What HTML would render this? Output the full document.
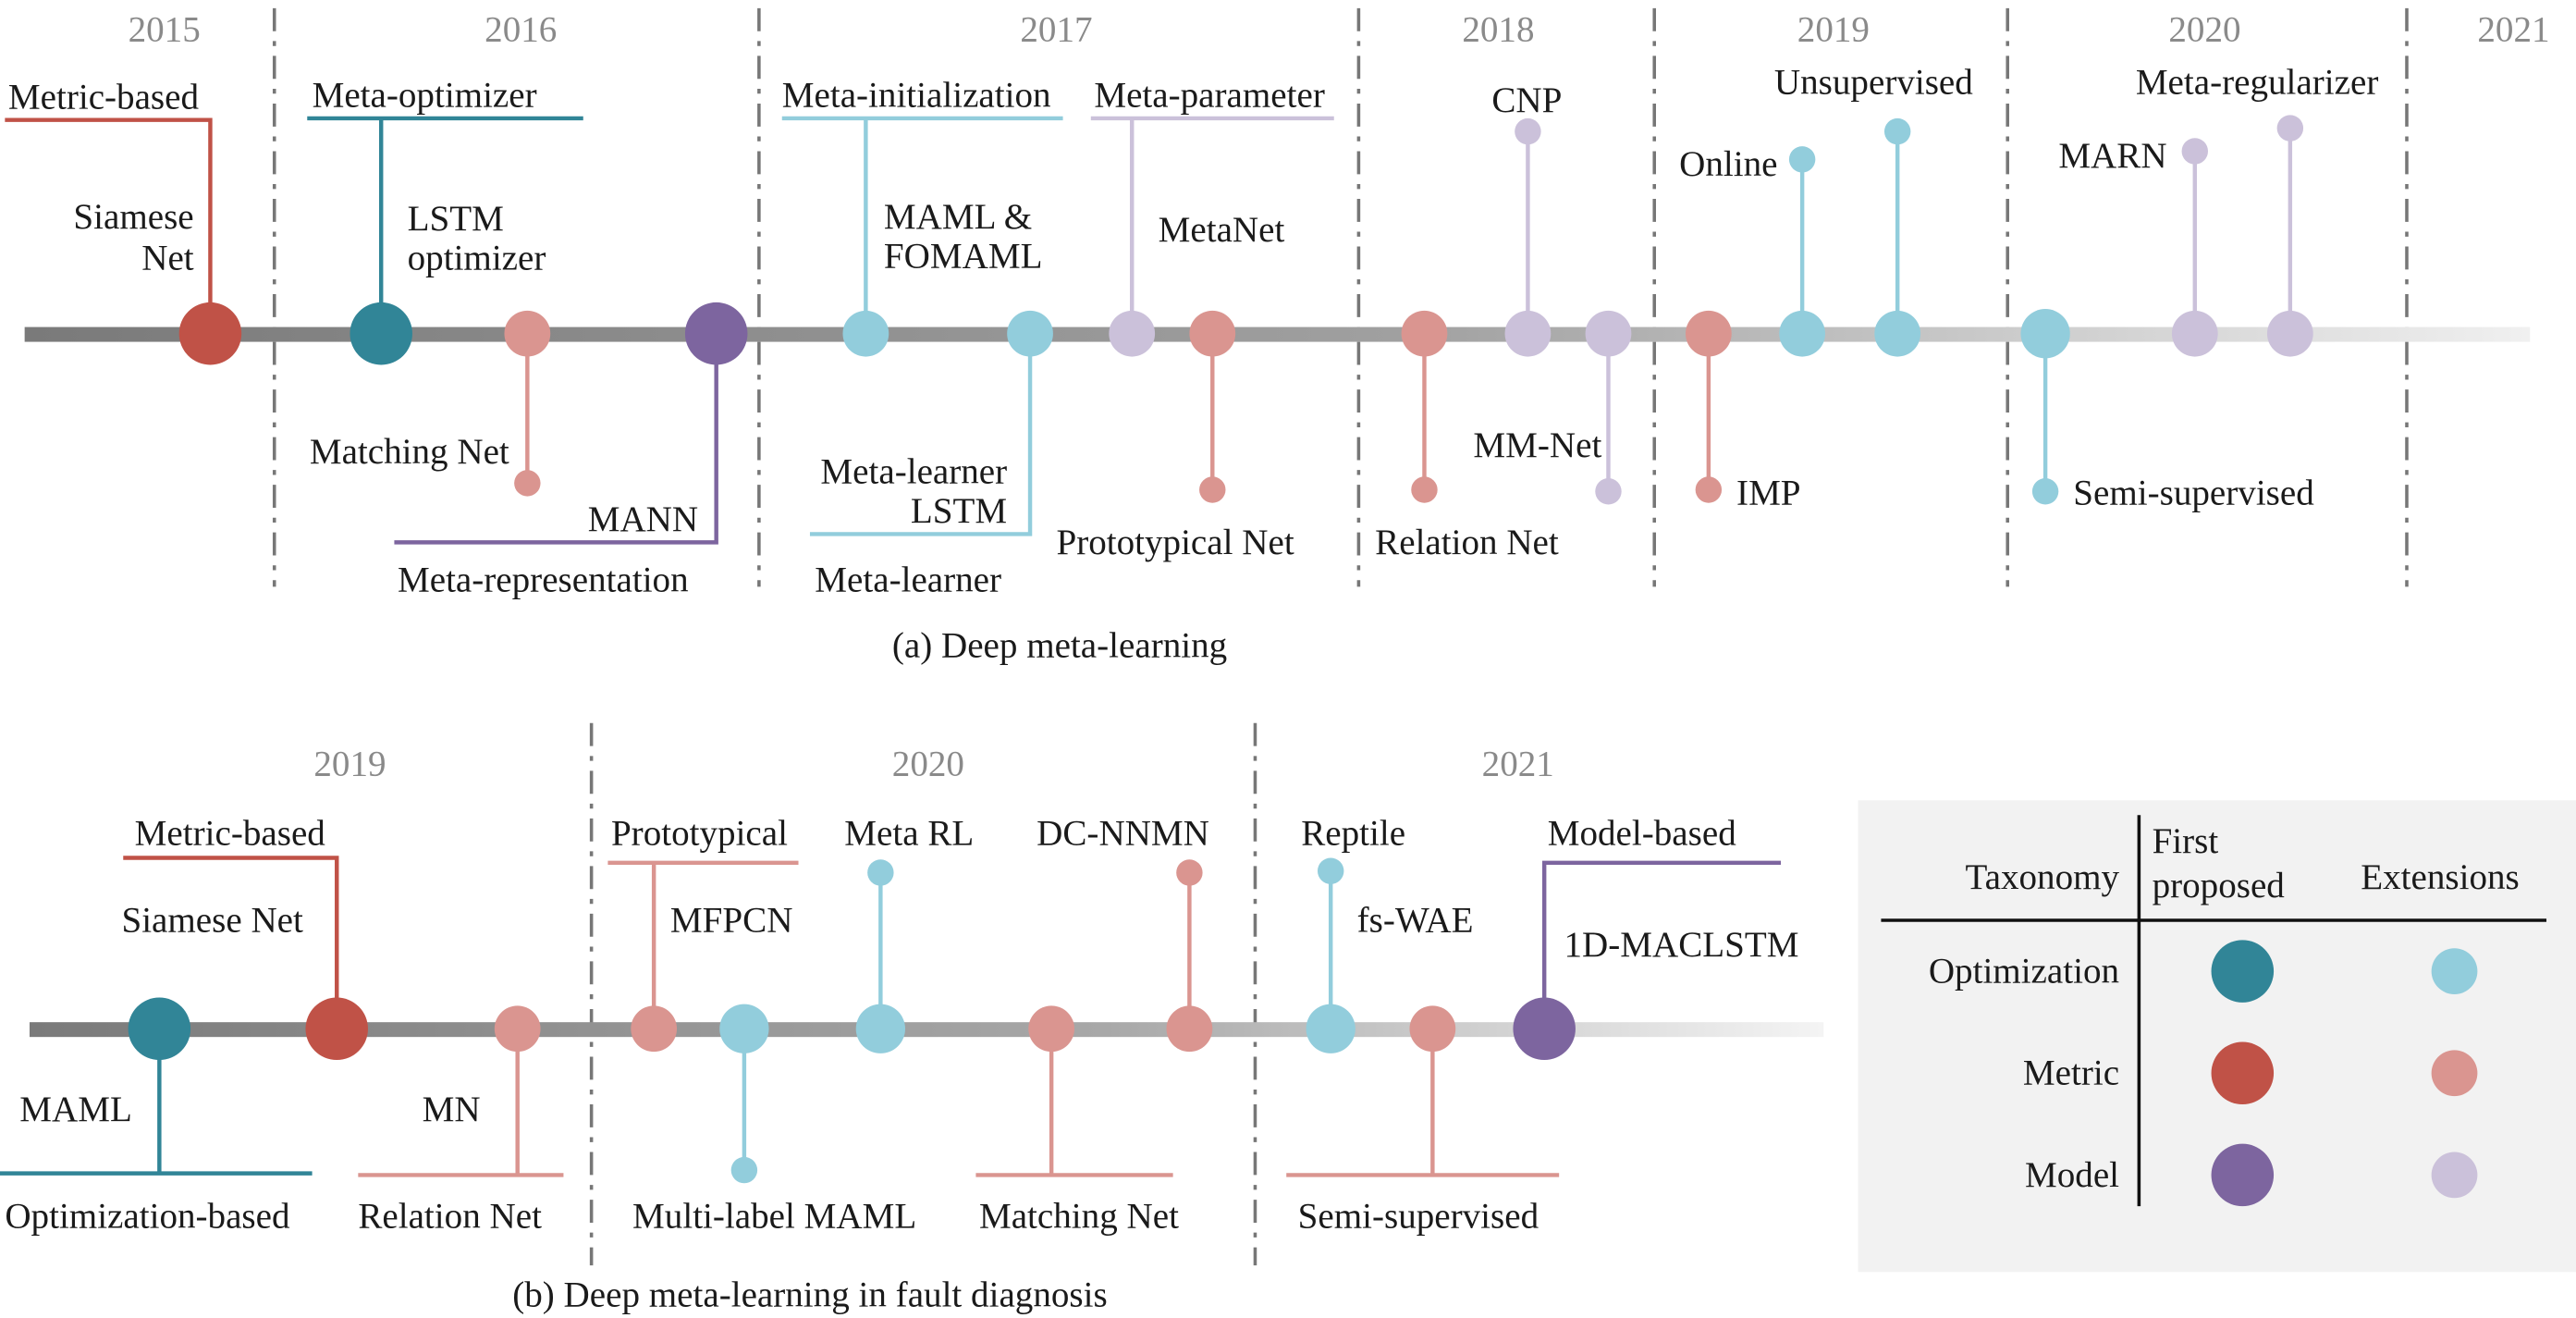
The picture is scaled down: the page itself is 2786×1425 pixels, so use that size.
<!DOCTYPE html>
<html><head><meta charset="utf-8"><style>html,body{margin:0;padding:0;background:#fff}svg{display:block}svg text{font-family:"Liberation Serif","Times New Roman",serif;font-size:22px;fill:#1a1a1a}svg text.y{fill:#8a8a8a;font-size:22px}</style></head><body>
<svg width="2786" height="1425" viewBox="0 0 1568 802" preserveAspectRatio="none" xmlns="http://www.w3.org/2000/svg" font-family="Liberation Serif, serif">
<defs>
<linearGradient id="ga" x1="0" x2="1"><stop offset="0" stop-color="#7a7a7a"/><stop offset="0.55" stop-color="#a0a0a0"/><stop offset="1" stop-color="#f0f0f0"/></linearGradient>
<linearGradient id="gb" x1="0" x2="1"><stop offset="0" stop-color="#7a7a7a"/><stop offset="0.6" stop-color="#a8a8a8"/><stop offset="1" stop-color="#f4f4f4"/></linearGradient>
</defs>
<g stroke="#777" stroke-width="2" stroke-dasharray="14,6,3,6">
<line x1="167" y1="5" x2="167" y2="357"/><line x1="462" y1="5" x2="462" y2="357"/><line x1="827" y1="5" x2="827" y2="357"/><line x1="1007" y1="5" x2="1007" y2="357"/><line x1="1222" y1="5" x2="1222" y2="357"/><line x1="1465" y1="5" x2="1465" y2="357"/>
<line x1="360" y1="440" x2="360" y2="770"/><line x1="764" y1="440" x2="764" y2="770"/>
</g>
<rect x="15" y="199" width="1525" height="9" fill="url(#ga)"/>
<rect x="18" y="622" width="1092" height="9" fill="url(#gb)"/>
<text class="y" x="100" y="25" text-anchor="middle">2015</text><text class="y" x="317" y="25" text-anchor="middle">2016</text><text class="y" x="643" y="25" text-anchor="middle">2017</text><text class="y" x="912" y="25" text-anchor="middle">2018</text><text class="y" x="1116" y="25" text-anchor="middle">2019</text><text class="y" x="1342" y="25" text-anchor="middle">2020</text><text class="y" x="1530" y="25" text-anchor="middle">2021</text>
<text class="y" x="213" y="472" text-anchor="middle">2019</text><text class="y" x="565" y="472" text-anchor="middle">2020</text><text class="y" x="924" y="472" text-anchor="middle">2021</text>
<g fill="none" stroke-width="2.5">
<polyline points="3,73 128,73 128,200" stroke="#c05247"/>
<polyline points="187,72 355,72" stroke="#318597"/><line x1="232" y1="72" x2="232" y2="200" stroke="#318597"/>
<line x1="321" y1="203" x2="321" y2="294" stroke="#da9590"/>
<polyline points="436,203 436,330 240,330" stroke="#7d659f"/>
<polyline points="476,72 647,72" stroke="#92cddc"/><line x1="527" y1="72" x2="527" y2="200" stroke="#92cddc"/>
<polyline points="627,203 627,325 493,325" stroke="#92cddc"/>
<polyline points="664,72 812,72" stroke="#cbc1da"/><line x1="689" y1="72" x2="689" y2="200" stroke="#cbc1da"/>
<line x1="738" y1="203" x2="738" y2="298" stroke="#da9590"/>
<line x1="867" y1="203" x2="867" y2="298" stroke="#da9590"/>
<line x1="930" y1="203" x2="930" y2="80" stroke="#cbc1da"/>
<line x1="979" y1="203" x2="979" y2="299" stroke="#cbc1da"/>
<line x1="1040" y1="203" x2="1040" y2="298" stroke="#da9590"/>
<line x1="1097" y1="203" x2="1097" y2="97" stroke="#92cddc"/>
<line x1="1155" y1="203" x2="1155" y2="80" stroke="#92cddc"/>
<line x1="1245" y1="203" x2="1245" y2="299" stroke="#92cddc"/>
<line x1="1336" y1="203" x2="1336" y2="92" stroke="#cbc1da"/>
<line x1="1394" y1="203" x2="1394" y2="78" stroke="#cbc1da"/>
<polyline points="75,522 205,522 205,626" stroke="#c05247"/>
<polyline points="97,626 97,714" stroke="#318597"/><line x1="0" y1="714" x2="190" y2="714" stroke="#318597"/>
<polyline points="315,626 315,715" stroke="#da9590"/><line x1="218" y1="715" x2="343" y2="715" stroke="#da9590"/>
<polyline points="370,525 486,525" stroke="#da9590"/><line x1="398" y1="525" x2="398" y2="626" stroke="#da9590"/>
<line x1="453" y1="626" x2="453" y2="712" stroke="#92cddc"/>
<line x1="536" y1="626" x2="536" y2="531" stroke="#92cddc"/>
<polyline points="640,626 640,715" stroke="#da9590"/><line x1="594" y1="715" x2="714" y2="715" stroke="#da9590"/>
<line x1="724" y1="626" x2="724" y2="531" stroke="#da9590"/>
<line x1="810" y1="626" x2="810" y2="530" stroke="#92cddc"/>
<polyline points="872,626 872,715" stroke="#da9590"/><line x1="783" y1="715" x2="949" y2="715" stroke="#da9590"/>
<polyline points="1084,525 940,525 940,626" stroke="#7d659f"/>
</g>
<g>
<circle cx="128" cy="203" r="19" fill="#c05247"/><circle cx="232" cy="203" r="19" fill="#318597"/><circle cx="321" cy="203" r="14" fill="#da9590"/><circle cx="321" cy="294" r="8" fill="#da9590"/><circle cx="436" cy="203" r="19" fill="#7d659f"/>
<circle cx="527" cy="203" r="14" fill="#92cddc"/><circle cx="627" cy="203" r="14" fill="#92cddc"/><circle cx="689" cy="203" r="14" fill="#cbc1da"/><circle cx="738" cy="203" r="14" fill="#da9590"/><circle cx="738" cy="298" r="8" fill="#da9590"/>
<circle cx="867" cy="203" r="14" fill="#da9590"/><circle cx="867" cy="298" r="8" fill="#da9590"/><circle cx="930" cy="203" r="14" fill="#cbc1da"/><circle cx="930" cy="80" r="8" fill="#cbc1da"/><circle cx="979" cy="203" r="14" fill="#cbc1da"/><circle cx="979" cy="299" r="8" fill="#cbc1da"/>
<circle cx="1040" cy="203" r="14" fill="#da9590"/><circle cx="1040" cy="298" r="8" fill="#da9590"/><circle cx="1097" cy="203" r="14" fill="#92cddc"/><circle cx="1097" cy="97" r="8" fill="#92cddc"/><circle cx="1155" cy="203" r="14" fill="#92cddc"/><circle cx="1155" cy="80" r="8" fill="#92cddc"/>
<circle cx="1245" cy="203" r="15" fill="#92cddc"/><circle cx="1245" cy="299" r="8" fill="#92cddc"/><circle cx="1336" cy="203" r="14" fill="#cbc1da"/><circle cx="1336" cy="92" r="8" fill="#cbc1da"/><circle cx="1394" cy="203" r="14" fill="#cbc1da"/><circle cx="1394" cy="78" r="8" fill="#cbc1da"/>
<circle cx="97" cy="626" r="19" fill="#318597"/><circle cx="205" cy="626" r="19" fill="#c05247"/><circle cx="315" cy="626" r="14" fill="#da9590"/><circle cx="398" cy="626" r="14" fill="#da9590"/><circle cx="453" cy="626" r="15" fill="#92cddc"/><circle cx="453" cy="712" r="8" fill="#92cddc"/>
<circle cx="536" cy="626" r="15" fill="#92cddc"/><circle cx="536" cy="531" r="8" fill="#92cddc"/><circle cx="640" cy="626" r="14" fill="#da9590"/><circle cx="724" cy="626" r="14" fill="#da9590"/><circle cx="724" cy="531" r="8" fill="#da9590"/>
<circle cx="810" cy="626" r="15" fill="#92cddc"/><circle cx="810" cy="530" r="8" fill="#92cddc"/><circle cx="872" cy="626" r="14" fill="#da9590"/><circle cx="940" cy="626" r="19" fill="#7d659f"/>
</g>
<text x="5" y="66">Metric-based</text>
<text x="118" y="139" text-anchor="end">Siamese</text><text x="118" y="164" text-anchor="end">Net</text>
<text x="190" y="65">Meta-optimizer</text>
<text x="248" y="140">LSTM</text><text x="248" y="164">optimizer</text>
<text x="310" y="282" text-anchor="end">Matching Net</text>
<text x="425" y="323" text-anchor="end">MANN</text>
<text x="242" y="360">Meta-representation</text>
<text x="476" y="65">Meta-initialization</text>
<text x="538" y="139">MAML &amp;</text><text x="538" y="163">FOMAML</text>
<text x="613" y="294" text-anchor="end">Meta-learner</text><text x="613" y="318" text-anchor="end">LSTM</text>
<text x="496" y="360">Meta-learner</text>
<text x="666" y="65">Meta-parameter</text>
<text x="705" y="147">MetaNet</text>
<text x="643" y="337">Prototypical Net</text>
<text x="837" y="337">Relation Net</text>
<text x="908" y="68">CNP</text>
<text x="975" y="278" text-anchor="end">MM-Net</text>
<text x="1057" y="307">IMP</text>
<text x="1082" y="107" text-anchor="end">Online</text>
<text x="1080" y="57">Unsupervised</text>
<text x="1262" y="307">Semi-supervised</text>
<text x="1319" y="102" text-anchor="end">MARN</text>
<text x="1300" y="57">Meta-regularizer</text>
<text x="645" y="400" text-anchor="middle">(a) Deep meta-learning</text>
<text x="82" y="514">Metric-based</text>
<text x="74" y="567">Siamese Net</text>
<text x="12" y="682">MAML</text>
<text x="3" y="747">Optimization-based</text>
<text x="257" y="682">MN</text>
<text x="218" y="747">Relation Net</text>
<text x="372" y="514">Prototypical</text>
<text x="408" y="567">MFPCN</text>
<text x="385" y="747">Multi-label MAML</text>
<text x="514" y="514">Meta RL</text>
<text x="596" y="747">Matching Net</text>
<text x="631" y="514">DC-NNMN</text>
<text x="792" y="514">Reptile</text>
<text x="826" y="567">fs-WAE</text>
<text x="790" y="747">Semi-supervised</text>
<text x="942" y="514">Model-based</text>
<text x="952" y="582">1D-MACLSTM</text>
<text x="493" y="795" text-anchor="middle">(b) Deep meta-learning in fault diagnosis</text>
<rect x="1131" y="487" width="437" height="287" fill="#f2f2f2"/>
<line x1="1302" y1="496" x2="1302" y2="734" stroke="#111" stroke-width="2"/>
<line x1="1145" y1="560" x2="1550" y2="560" stroke="#111" stroke-width="2"/>
<text x="1290" y="541" text-anchor="end">Taxonomy</text>
<text x="1310" y="519">First</text><text x="1310" y="546">proposed</text>
<text x="1437" y="541">Extensions</text>
<text x="1290" y="598" text-anchor="end">Optimization</text>
<text x="1290" y="660" text-anchor="end">Metric</text>
<text x="1290" y="722" text-anchor="end">Model</text>
<circle cx="1365" cy="591" r="19" fill="#318597"/><circle cx="1494" cy="591" r="14" fill="#92cddc"/>
<circle cx="1365" cy="653" r="19" fill="#c05247"/><circle cx="1494" cy="653" r="14" fill="#da9590"/>
<circle cx="1365" cy="715" r="19" fill="#7d659f"/><circle cx="1494" cy="715" r="14" fill="#cbc1da"/>
</svg>
</body></html>
